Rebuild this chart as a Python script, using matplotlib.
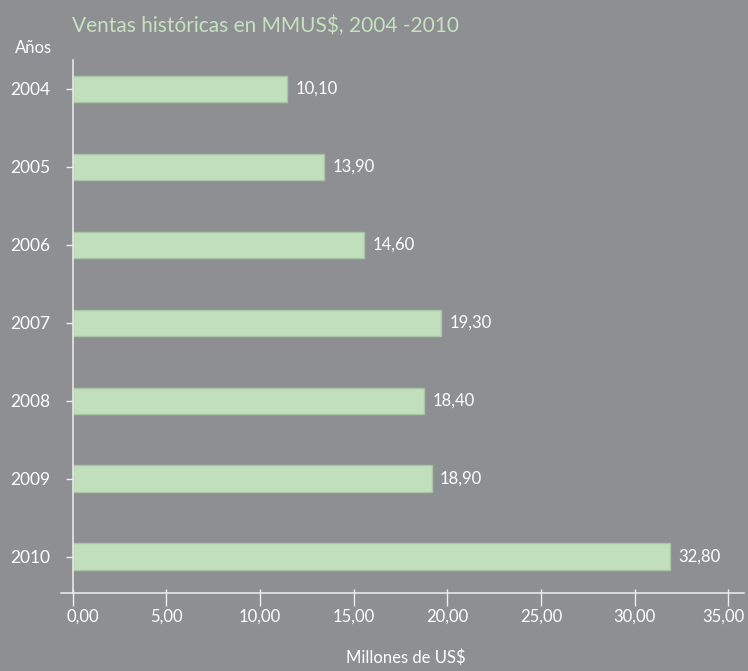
import numpy as np
import matplotlib
matplotlib.use("Agg")
import matplotlib.pyplot as plt
import matplotlib.transforms as mtransforms
from matplotlib.ticker import FixedLocator

# data
years = ["2004", "2005", "2006", "2007", "2008", "2009", "2010"]
bar_lengths = [11.46, 13.42, 15.57, 19.66, 18.75, 19.16, 31.88]   # drawn bar ends
shown_values = [10.10, 13.90, 14.60, 19.30, 18.40, 18.90, 32.80]  # printed labels
x_ticks = [0, 5, 10, 15, 20, 25, 30, 35]

bg = "#8e8f93"
bar_color = "#c2dfbd"
bar_edge = "#a8c6a3"
title_color = "#c6e2bf"
fg = "white"

plt.rcParams['font.family'] = ['Lato', 'DejaVu Sans']

W, H = 748, 671
fig = plt.figure(figsize=(W / 100, H / 100), dpi=100, facecolor=bg)
ax = fig.add_axes([61 / W, 1 - 592.7 / H, (744 - 61) / W, (592.7 - 60) / H])
ax.set_facecolor(bg)

pos = np.arange(len(years))
ax.barh(pos, bar_lengths, height=0.34, color=bar_color, edgecolor=bar_edge,
        linewidth=1, zorder=2)

for p, length, val in zip(pos, bar_lengths, shown_values):
    ax.annotate(f"{val:.2f}".replace(".", ","), xy=(length, p), xytext=(6, 0),
                textcoords="offset points", va="center", ha="left",
                color=fg, fontsize=12)

ax.set_xlim(-0.614, 35.83)
ax.set_ylim(6.462, -0.372)

for s in ["top", "right"]:
    ax.spines[s].set_visible(False)
ax.spines["left"].set_position(("data", 0))
for s in ["left", "bottom"]:
    ax.spines[s].set_color("#eeeeee")
    ax.spines[s].set_linewidth(1.1)

ax.set_xticks(x_ticks)
ax.set_xticklabels([f"{v:.2f}".replace(".", ",") for v in x_ticks])
ax.set_yticks(pos)
ax.set_yticklabels(years)

ax.xaxis.set_minor_locator(FixedLocator(x_ticks))
ax.yaxis.set_minor_locator(FixedLocator(pos))
ax.xaxis.remove_overlapping_locs = False
ax.yaxis.remove_overlapping_locs = False

ax.tick_params(axis="x", which="major", direction="out", length=9.6, width=1,
               color="#eeeeee", labelcolor=fg, labelsize=12, pad=2)
ax.tick_params(axis="x", which="minor", direction="in", length=3.2, width=1,
               color="#eeeeee")
ax.tick_params(axis="y", which="major", direction="out", length=4.8, width=1,
               color="#eeeeee", labelcolor=fg, labelsize=12.5, pad=11)
ax.tick_params(axis="y", which="minor", direction="in", length=7.2, width=1,
               color="#eeeeee")

# first and last x labels sit a bit off their ticks in the original
labels = ax.get_xticklabels()
for lab, dx in [(labels[0], 10), (labels[-1], -5)]:
    lab.set_transform(lab.get_transform() +
                      mtransforms.ScaledTranslation(dx / 100, 0, fig.dpi_scale_trans))

fig.text(72.3 / W, 1 - 31.7 / H, "Ventas históricas en MMUS$, 2004 -2010",
         color=title_color, fontsize=15, ha="left", va="baseline")
fig.text(34 / W, 1 - 52.7 / H, "Años", color=fg, fontsize=12,
         ha="center", va="baseline")
fig.text(406 / W, 1 - 663 / H, "Millones de US$", color=fg, fontsize=12,
         ha="center", va="baseline")

fig.savefig("out.png", dpi=100, facecolor=bg)
